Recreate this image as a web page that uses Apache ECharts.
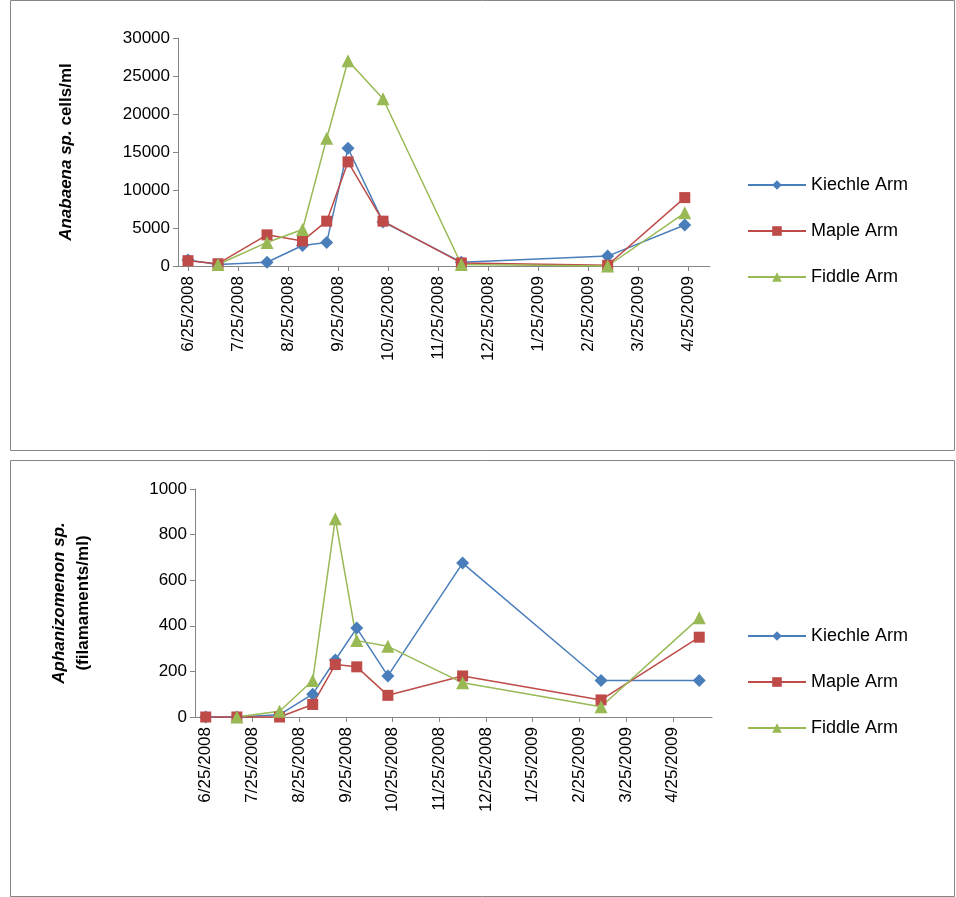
<!DOCTYPE html>
<html><head><meta charset="utf-8">
<script src="https://cdn.jsdelivr.net/npm/echarts@6/dist/echarts.min.js"></script>
<style>html,body{margin:0;background:#fff}#c{width:956px;height:897px}</style>
</head><body><div id="c"></div>
<script>
// month labels (25th of each month)
const monthLabels = ['6/25/2008','7/25/2008','8/25/2008','9/25/2008','10/25/2008','11/25/2008','12/25/2008','1/25/2009','2/25/2009','3/25/2009','4/25/2009'];
const seriesNames = ['Kiechle Arm','Maple Arm','Fiddle Arm'];

// top panel: Anabaena sp. cells/ml
const topDates = ['6/25/2008','7/13/2008','8/12/2008','9/3/2008','9/18/2008','10/1/2008','10/22/2008','12/9/2008','3/8/2009','4/23/2009'];
const topKiechle = [800,200,500,2700,3100,15500,5800,500,1300,5400];
const topMaple = [700,300,4100,3300,5900,13700,5900,400,100,9000];
const topFiddle = [null,200,3100,4800,16800,27000,22000,200,0,7000];

// bottom panel: Aphanizomenon sp. filaments/ml
const botDates = ['6/25/2008','7/15/2008','8/12/2008','9/3/2008','9/18/2008','10/2/2008','10/22/2008','12/10/2008','3/10/2009','5/12/2009'];
const botKiechle = [0,0,10,100,250,390,180,675,160,160];
const botMaple = [0,0,0,55,230,220,95,180,75,350];
const botFiddle = [null,0,25,160,870,335,310,150,45,435];

const colors = ['#4a7ebb','#be4b48','#98b954'];
const symbols = ['diamond','rect','triangle'];

// fractional month offset from 6/25/2008
function monthPos(s) {
  const [m,d,y] = s.split('/').map(Number);
  let k = (y-2008)*12 + (m-6);
  let base = new Date(y, m-1, 25), next;
  if (d >= 25) { next = new Date(y, m, 25); return k + (d-25)/((next-base)/864e5); }
  const prev = new Date(y, m-2, 25);
  return k - 1 + (new Date(y,m-1,d)-prev)/(base-prev);
}
const ticks = monthLabels.map((_, i) => i);
const font = 'Liberation Sans';

function xAx(idx, min, max) {
  return {gridIndex: idx, type:'value', min, max,
    axisLine:{lineStyle:{color:'#868686'}},
    axisTick:{customValues:ticks, length:5, lineStyle:{color:'#868686'}},
    axisLabel:{customValues:ticks, rotate:90, color:'#000', fontSize:17, fontFamily:font, margin:10,
      formatter: v => monthLabels[Math.round(v)]},
    splitLine:{show:false}};
}
function yAx(idx, max, interval, name, gap) {
  return {gridIndex: idx, type:'value', min:0, max, interval,
    axisLine:{show:true, onZero:false, lineStyle:{color:'#868686'}},
    axisTick:{show:true, length:5, lineStyle:{color:'#868686'}},
    axisLabel:{color:'#000', fontSize:17, fontFamily:font, formatter: v => String(v)},
    splitLine:{show:false},
    name, nameLocation:'middle', nameGap:gap, nameRotate:90,
    nameTextStyle:{fontFamily:font, fontSize:17, color:'#000', lineHeight:24,
      rich:{i:{fontStyle:'italic', fontWeight:'bold', fontSize:17, fontFamily:font},
            b:{fontWeight:'bold', fontSize:17, fontFamily:font}}}};
}
function mk(name, i, dates, vals, idx) {
  return {name, type:'line', xAxisIndex:idx, yAxisIndex:idx, symbol:symbols[i], symbolSize: i===1?11:13,
    color:colors[i], lineStyle:{width:1.5, color:colors[i]}, connectNulls:true, clip:false,
    data: dates.map((d,j) => [monthPos(d), vals[j]]).filter(p => p[1] !== null)};
}

const chart = echarts.init(document.getElementById('c'));
chart.setOption({
  animation:false,
  graphic:[
    {type:'rect', shape:{x:10.5,y:0.5,width:944,height:450}, style:{fill:'none', stroke:'#868686'}},
    {type:'rect', shape:{x:10.5,y:460.5,width:944,height:436}, style:{fill:'none', stroke:'#868686'}}
  ],
  grid:[
    {left:178, top:38, width:532, height:228},
    {left:195, top:489, width:517, height:228}
  ],
  legend:[
    {data:seriesNames, orient:'vertical', left:742, top:171, itemGap:28, itemWidth:58, itemHeight:12,
      textStyle:{fontSize:18, fontFamily:font, color:'#000'}},
    {data:seriesNames, orient:'vertical', left:742, top:622, itemGap:28, itemWidth:58, itemHeight:12,
      textStyle:{fontSize:18, fontFamily:font, color:'#000'}}
  ],
  xAxis:[xAx(0,-0.2,10.44), xAx(1,-0.23,10.84)],
  yAxis:[
    yAx(0,30000,5000,'{i|Anabaena sp.} {b|cells/ml}',100),
    yAx(1,1000,200,'{i|Aphanizomenon sp.}\n{b|(filamaments/ml)}',100)
  ],
  series:[
    mk(seriesNames[0],0,topDates,topKiechle,0),
    mk(seriesNames[1],1,topDates,topMaple,0),
    mk(seriesNames[2],2,topDates,topFiddle,0),
    mk(seriesNames[0],0,botDates,botKiechle,1),
    mk(seriesNames[1],1,botDates,botMaple,1),
    mk(seriesNames[2],2,botDates,botFiddle,1)
  ]
});
</script></body></html>
